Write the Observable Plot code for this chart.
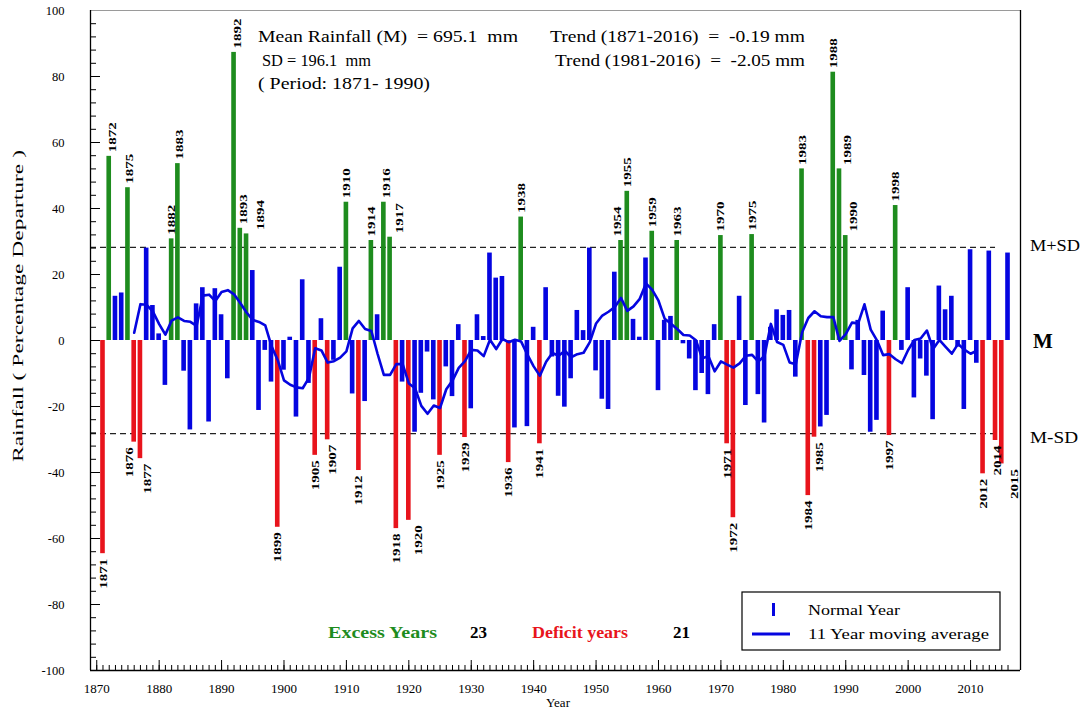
<!DOCTYPE html>
<html><head><meta charset="utf-8">
<script src="https://cdn.jsdelivr.net/npm/d3@7"></script>
<script src="https://cdn.jsdelivr.net/npm/@observablehq/plot@0.6"></script>
<style>
html,body{margin:0;padding:0;background:#fff;}
#chart{width:1084px;height:709px;}
svg{display:block;}
svg text{white-space:pre;}
</style></head><body><div id="chart"></div>
<script>
// ---- data ----
const years = d3.range(1871, 2017);
const departures = [
  -64.6, 55.8, 13.4, 14.4, 46.3, -30.8, -35.8, 28.0, 10.6, 2.0,      // 1871-1880
  -13.6, 30.8, 53.6, -9.3, -27.1, 11.1, 16.0, -24.7, 15.7, 7.8,      // 1881-1890
  -11.6, 87.3, 34.0, 32.3, 21.2, -21.2, -3.0, -12.6, -56.6, -9.0,    // 1891-1900
  1.0, -23.2, 18.4, -13.0, -34.8, 6.6, -30.1, -6.0, 22.2, 41.9,      // 1901-1910
  -16.2, -39.4, -18.5, 30.3, 7.8, 41.9, 31.3, -57.0, -12.6, -54.5,   // 1911-1920
  -27.8, -16.0, -3.5, -18.0, -34.8, -8.0, -17.0, 4.8, -29.4, -20.7,  // 1921-1930
  7.8, 1.2, 26.5, 18.9, 19.4, -37.0, -26.5, 37.4, -26.1, 4.0,        // 1931-1940
  -31.3, 16.0, -5.0, -16.9, -20.2, -11.6, 9.1, 3.0, 28.0, -9.2,      // 1941-1950
  -17.8, -20.9, 20.7, 30.3, 45.2, 6.4, 1.0, 25.0, 33.1, -15.2,       // 1951-1960
  6.1, 7.3, 30.3, -1.0, -5.6, -15.2, -10.0, -16.4, 4.8, 31.8,        // 1961-1970
  -31.3, -53.7, 13.4, -19.7, 32.1, -16.4, -25.0, 4.0, 9.3, 7.6,      // 1971-1980
  9.1, -11.1, 52.0, -47.0, -29.3, -26.2, -22.7, 81.3, 52.0, 31.8,    // 1981-1990
  -8.9, 6.1, -10.6, -27.8, -24.2, 8.9, -28.8, 40.9, -3.0, 16.0,      // 1991-2000
  -17.4, -5.6, -10.8, -24.0, 16.5, 9.3, 13.4, -2.0, -20.9, 27.5,     // 2001-2010
  -6.9, -40.4, 27.1, -30.3, -37.4, 26.5                              // 2011-2016
];
const meanRainfall = 695.1;   // mm
const sdRainfall = 196.1;     // mm
const categories = ["Excess", "Deficit", "Normal"];
const categoryColors = ["#1e8c1e", "#e8141c", "#0505e0"];
const xTickLabels = d3.range(1870, 2011, 10);
const yTickLabels = d3.range(-100, 101, 20);

// label nudges (px) to avoid overlaps, as in the reference
const labelNudge = {1872: 3, 1875: 2, 1876: -5, 1877: 7, 1883: 2, 1892: 3, 1893: 3, 1894: 14,
  1907: 5, 1916: 3, 1917: 9, 1920: 10, 1954: -4, 1985: 5, 1989: 8, 1990: 8, 2014: 2, 2015: 13};

// ---- derived ----
const sdPct = sdRainfall / meanRainfall * 100;
const data = years.map((year, i) => ({year, value: departures[i]}));
const cat = d => d.value > sdPct ? "Excess" : d.value < -sdPct ? "Deficit" : "Normal";
const excess = data.filter(d => cat(d) === "Excess");
const deficit = data.filter(d => cat(d) === "Deficit");
const blue = categoryColors[2];
const serif = "'Liberation Serif', 'Times New Roman', serif";
const pxPerYear = 930 / 149;
const labelX = d => d.year + (labelNudge[d.year] || 0) / pxPerYear;

const plot = Plot.plot({
  width: 1084, height: 709,
  marginLeft: 90, marginRight: 64, marginTop: 10, marginBottom: 39,
  style: {fontFamily: serif, fontSize: "12px", background: "white", color: "black"},
  x: {domain: [1869, 2018], axis: null},
  y: {domain: [-100, 100], axis: null},
  color: {domain: categories, range: categoryColors},
  marks: [
    Plot.ruleY([sdPct, -sdPct], {x1: 1869, x2: 2014, stroke: "#222", strokeWidth: 1.1, strokeDasharray: "6,4"}),
    Plot.rectY(data, {x1: d => d.year - 0.37, x2: d => d.year + 0.37, y1: 0, y2: "value", fill: cat}),
    Plot.lineY(data, Plot.windowY({k: 11, anchor: "middle", strict: true},
      {x: "year", y: "value", stroke: blue, strokeWidth: 2.6, strokeLinejoin: "round"})),
    Plot.text(excess, {x: labelX, y: "value", text: d => String(d.year), rotate: -90,
      textAnchor: "start", dy: -4, fontWeight: "bold", fontSize: 11, fontFamily: serif, fill: "black", ariaDescription: "yrlab"}),
    Plot.text(deficit, {x: labelX, y: "value", text: d => String(d.year), rotate: -90,
      textAnchor: "end", dy: 5, fontWeight: "bold", fontSize: 11, fontFamily: serif, fill: "black", ariaDescription: "yrlab"}),
    // minor / major ticks (inward)
    Plot.ruleX(d3.range(1870, 2017), {y1: -100, y2: -100 + 5 / 3.3, stroke: "black", strokeWidth: 1}),
    Plot.ruleX(xTickLabels, {y1: -100, y2: -100 + 10 / 3.3, stroke: "black", strokeWidth: 1}),
    Plot.ruleY(d3.range(-100, 101, 4), {x1: 1869, x2: 1869 + 6 / pxPerYear, stroke: "black", strokeWidth: 1}),
    Plot.ruleY(yTickLabels, {x1: 1869, x2: 1869 + 10 / pxPerYear, stroke: "black", strokeWidth: 1}),
    Plot.axisX({ticks: xTickLabels, tickSize: 0, tickPadding: 13, tickFormat: "d", label: null, fontSize: 13, fontFamily: serif}),
    Plot.axisY({ticks: yTickLabels, tickSize: 0, tickPadding: 26, tickFormat: d => String(d), label: null, fontSize: 12.5, fontFamily: serif}),
    // frame: top edge lighter, as in the reference
    Plot.ruleY([100], {stroke: "#9a9a9a", strokeWidth: 1}),
    Plot.ruleY([-100], {stroke: "black", strokeWidth: 1.3}),
    Plot.ruleX([1869, 2018], {stroke: "black", strokeWidth: 1.3})
  ]
});
document.getElementById("chart").appendChild(plot);

// stretch bar year labels like the reference
d3.select(plot).selectAll("g[aria-description='yrlab'] text")
  .attr("textLength", 30).attr("lengthAdjust", "spacingAndGlyphs");

// ---- annotations ----
const svg = d3.select(plot);
const ann = svg.append("g").attr("font-family", serif);
function txt(str, x, y, o = {}) {
  const t = (o.parent || ann).append("text").text(str)
    .attr("x", x).attr("y", y)
    .attr("font-family", serif)
    .attr("dominant-baseline", "central")
    .attr("font-size", o.size || 16)
    .attr("font-weight", o.weight || "normal")
    .attr("fill", o.fill || "black")
    .attr("text-anchor", o.anchor || "start");
  if (o.len) t.attr("textLength", o.len).attr("lengthAdjust", "spacingAndGlyphs");
  if (o.rotate) t.attr("transform", `rotate(${o.rotate},${x},${y})`);
  return t;
}
txt(`Mean Rainfall (M)  = ${meanRainfall}  mm`, 258, 36, {size: 16, len: 260});
txt(`SD = ${sdRainfall}  mm`, 262, 60, {size: 16, len: 109});
txt("( Period: 1871- 1990)", 258, 83, {size: 16, len: 172});
txt("Trend (1871-2016)  =  -0.19 mm", 550, 36, {size: 16, len: 255});
txt("Trend (1981-2016)  =  -2.05 mm", 555, 60, {size: 16, len: 250});

txt("Excess Years", 328, 632, {size: 16, weight: "bold", fill: categoryColors[0], len: 109});
txt(String(excess.length), 470, 632, {size: 16, weight: "bold", len: 17});
txt("Deficit years", 532, 632, {size: 16, weight: "bold", fill: categoryColors[1], len: 96});
txt(String(deficit.length), 673, 632, {size: 16, weight: "bold", len: 17});

// right side labels
txt("M+SD", 1030, 245, {size: 16, len: 50});
txt("M", 1033, 341, {size: 21, weight: "bold"});
txt("M-SD", 1030, 437, {size: 16, len: 48});

// axis titles
txt("Rainfall ( Percentage Departure )", 18, 306, {size: 15, anchor: "middle", len: 312, rotate: -90});
txt("Year", 558, 702, {size: 13, anchor: "middle"});

// legend
const lg = svg.append("g");
lg.append("rect").attr("x", 742).attr("y", 592).attr("width", 258).attr("height", 58)
  .attr("fill", "white").attr("stroke", "black").attr("stroke-width", 1.2);
lg.append("rect").attr("x", 772).attr("y", 603).attr("width", 3).attr("height", 13).attr("fill", blue);
lg.append("line").attr("x1", 752).attr("x2", 790).attr("y1", 634).attr("y2", 634)
  .attr("stroke", blue).attr("stroke-width", 3);
txt("Normal Year", 808, 610, {size: 15, len: 92, parent: lg});
txt("11 Year moving average", 808, 634, {size: 15, len: 181, parent: lg});
</script></body></html>
